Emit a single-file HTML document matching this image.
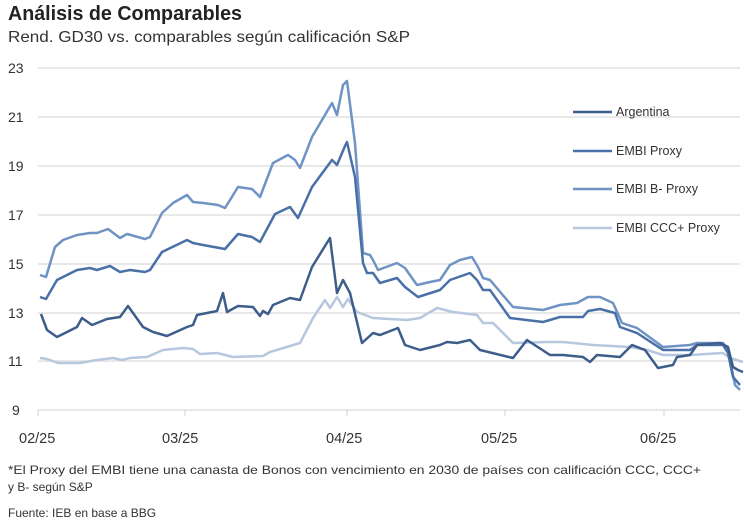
<!DOCTYPE html>
<html><head><meta charset="utf-8"><style>
html,body{margin:0;padding:0;background:#fff;}
svg{display:block;font-family:"Liberation Sans",sans-serif;}
</style></head><body>
<svg width="744" height="523" viewBox="0 0 744 523" xmlns="http://www.w3.org/2000/svg">
<text x="8" y="20" font-size="20" font-weight="bold" fill="#222" textLength="234" lengthAdjust="spacingAndGlyphs">Análisis de Comparables</text>
<text x="8" y="42" font-size="16" fill="#333" textLength="402" lengthAdjust="spacingAndGlyphs">Rend. GD30 vs. comparables según calificación S&amp;P</text>
<g stroke="#d9d9d9" stroke-width="1.2">
<line x1="38" y1="68" x2="740" y2="68"/><line x1="38" y1="117" x2="740" y2="117"/>
<line x1="38" y1="166" x2="740" y2="166"/><line x1="38" y1="215" x2="740" y2="215"/>
<line x1="38" y1="264" x2="740" y2="264"/><line x1="38" y1="313" x2="740" y2="313"/>
<line x1="38" y1="361" x2="740" y2="361"/><line x1="38" y1="410" x2="740" y2="410"/>
<line x1="38" y1="410" x2="38" y2="416"/><line x1="185" y1="410" x2="185" y2="416"/>
<line x1="347" y1="410" x2="347" y2="416"/><line x1="505" y1="410" x2="505" y2="416"/>
<line x1="664" y1="410" x2="664" y2="416"/>
</g>
<g font-size="14" fill="#333">
<text x="8" y="73">23</text><text x="8" y="122">21</text><text x="8" y="171">19</text>
<text x="8" y="220">17</text><text x="8" y="269">15</text><text x="8" y="318">13</text>
<text x="8" y="366">11</text><text x="12" y="415">9</text>
</g>
<g font-size="14.5" fill="#333">
<text x="19" y="443">02/25</text><text x="162" y="443">03/25</text><text x="326" y="443">04/25</text>
<text x="481" y="443">05/25</text><text x="640" y="443">06/25</text>
</g>
<g fill="none" stroke-width="2.5" stroke-linejoin="round">
<polyline stroke="#b7c7de" points="40,358 47,359 58,363 80,363 97,360 113,358 122,360 130,358 147,357 163,350 183,348 193,349 200,354 217,353 233,357 263,356 270,352 300,343 313,318 325,300 330,308 337,297 343,307 348,299 357,312 373,318 407,320 420,318 437,308 453,312 477,315 483,323 493,323 513,343 547,342 563,342 593,345 630,347 647,350 663,355 690,355 723,353 730,358 743,362"/>
<polyline stroke="#6f94c4" points="40,275 46,277 55,247 63,240 77,235 90,233 97,233 108,229 120,238 127,234 145,239 150,237 162,213 173,203 187,195 193,202 203,203 218,205 225,208 230,200 238,187 252,189 260,197 273,163 288,155 295,160 300,168 312,137 322,120 332,103 337,115 343,85 347,81 355,143 363,253 370,255 373,260 378,270 397,263 405,268 417,285 430,282 440,280 450,265 460,260 472,257 478,267 483,278 490,280 513,307 523,308 543,310 560,305 577,303 588,297 600,297 613,303 622,323 637,328 663,347 690,345 697,343 723,343 728,350 732,370 735,385 740,390"/>
<polyline stroke="#4a70a8" points="40,297 46,299 57,280 77,270 90,268 97,270 110,266 120,272 130,270 145,272 150,270 162,252 187,240 193,243 203,245 225,249 238,234 252,237 260,242 275,214 290,207 298,218 312,187 332,160 337,165 345,146 347,142 355,177 363,263 367,273 373,273 380,283 397,278 405,287 418,297 440,290 450,280 470,273 477,280 483,290 490,290 510,318 543,322 560,317 583,317 588,311 600,309 615,313 620,327 637,333 663,350 690,350 697,345 723,345 728,353 733,377 740,385"/>
<polyline stroke="#3d5e8a" points="41,314 47,330 57,337 77,327 82,318 92,325 107,319 120,317 128,306 143,327 153,332 167,336 187,327 193,325 197,315 217,311 223,293 227,312 238,306 253,307 260,316 263,311 268,314 273,305 290,298 300,300 312,267 330,238 337,293 343,280 350,293 362,343 373,333 380,335 398,328 405,345 420,350 440,345 447,342 457,343 470,340 480,350 513,358 527,340 550,355 563,355 583,357 590,362 597,355 620,357 632,345 645,350 658,368 673,365 677,357 690,355 697,345 720,343 728,347 733,367 738,370 743,372"/>
</g>
<g stroke-width="2.5">
<line x1="573" y1="112" x2="612" y2="112" stroke="#3d5e8a"/>
<line x1="573" y1="151" x2="612" y2="151" stroke="#4a70a8"/>
<line x1="573" y1="189" x2="612" y2="189" stroke="#6f94c4"/>
<line x1="573" y1="228" x2="612" y2="228" stroke="#b7c7de"/>
</g>
<g font-size="12.5" fill="#333">
<text x="616" y="116">Argentina</text>
<text x="616" y="155">EMBI Proxy</text>
<text x="616" y="193">EMBI B- Proxy</text>
<text x="616" y="232">EMBI CCC+ Proxy</text>
</g>
<g font-size="12" fill="#333">
<text x="8" y="474" textLength="693" lengthAdjust="spacingAndGlyphs">*El Proxy del EMBI tiene una canasta de Bonos con vencimiento en 2030 de países con calificación CCC, CCC+</text>
<text x="8" y="491">y B- según S&amp;P</text>
<text x="8" y="517">Fuente: IEB en base a BBG</text>
</g>
</svg>
</body></html>
